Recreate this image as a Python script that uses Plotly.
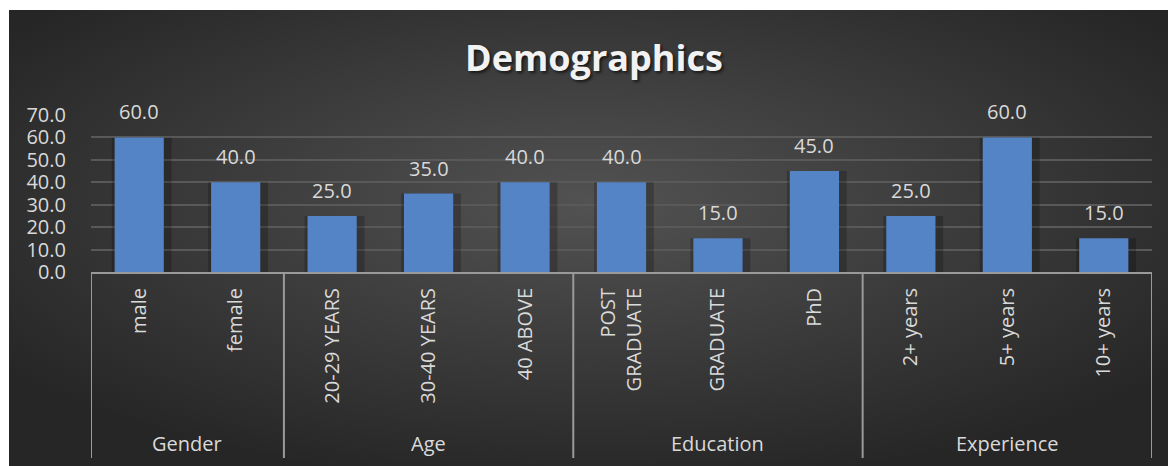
import base64
import plotly.graph_objects as go

# ---- data ----
categories = ["male", "female", "20-29 YEARS", "30-40 YEARS", "40 ABOVE",
              "POST<br>GRADUATE", "GRADUATE", "PhD", "2+ years", "5+ years", "10+ years"]
values = [60.0, 40.0, 25.0, 35.0, 40.0, 40.0, 15.0, 45.0, 25.0, 60.0, 15.0]
groups = ["Gender", "Age", "Education", "Experience"]
group_sizes = [2, 3, 3, 3]
y_ticks = [0, 10, 20, 30, 40, 50, 60, 70]

W, H = 1168, 466
PL, PR, PT, PB = 91, 1152, 115, 272  # plot area in page pixels
FONT = "Open Sans"
TXT = "#d9d9d9"


def px_x(X):
    return (X - PL) / (PR - PL)


def px_y(Y):
    return (PB - Y) / (PB - PT)


# background radial gradient (svg data uri)
svg = '''<svg xmlns="http://www.w3.org/2000/svg" width="1159" height="456" viewBox="0 0 1159 456" preserveAspectRatio="none">
<defs><radialGradient id="g" cx="50%" cy="42%" r="62%">
<stop offset="0%" stop-color="#525252"/><stop offset="100%" stop-color="#262626"/></radialGradient></defs>
<rect width="1159" height="456" fill="url(#g)"/></svg>'''
bg_src = "data:image/svg+xml;base64," + base64.b64encode(svg.encode()).decode()

xs = list(range(len(categories)))
fig = go.Figure()
# soft shadow behind bars
fig.add_trace(go.Bar(
    x=xs, y=values, marker=dict(color="rgba(0,0,0,0.22)", line=dict(width=0)),
    width=0.62, offset=-0.285, hoverinfo="skip"))
fig.add_trace(go.Bar(
    x=xs, y=values,
    marker=dict(color="#5484c5", line=dict(width=0)),
    width=0.51, offset=-0.255, hoverinfo="skip"))

# data labels
for i, v in enumerate(values):
    fig.add_annotation(x=i, y=v, xref="x", yref="y", text=f"{v:.1f}",
                       showarrow=False, yanchor="bottom", yshift=10,
                       font=dict(family=FONT, size=20, color=TXT))

# group separators and labels
start = 0
bounds = [-0.5]
for g, n in zip(groups, group_sizes):
    center = start + (n - 1) / 2
    fig.add_annotation(x=center, y=px_y(443), xref="x", yref="paper", text=g,
                       showarrow=False, yanchor="middle",
                       font=dict(family=FONT, size=20, color=TXT))
    start += n
    bounds.append(start - 0.5)
for b in bounds:
    fig.add_shape(type="line", xref="x", yref="paper", x0=b, x1=b,
                  y0=px_y(272), y1=px_y(458), line=dict(color="#9a9a9a", width=2), layer="above")

# white page margins (top and left) around the dark chart
fig.add_shape(type="rect", xref="paper", yref="paper", x0=px_x(0), x1=px_x(W + 5),
              y0=px_y(10), y1=px_y(-5), fillcolor="white", line=dict(width=0), layer="below")
fig.add_shape(type="rect", xref="paper", yref="paper", x0=px_x(-5), x1=px_x(9),
              y0=px_y(H + 5), y1=px_y(-5), fillcolor="white", line=dict(width=0), layer="below")

fig.add_layout_image(source=bg_src, xref="paper", yref="paper", x=px_x(9), y=px_y(10),
                     sizex=(W + 4 - 9) / (PR - PL), sizey=(H + 4 - 10) / (PB - PT),
                     xanchor="left", yanchor="top", sizing="stretch", layer="below")

fig.add_annotation(text="<b>Demographics</b>", xref="paper", yref="paper",
                   x=px_x(594), y=px_y(57), showarrow=False, xanchor="center", yanchor="middle",
                   font=dict(family=FONT, size=36, color="#f2f2f2",
                             shadow="2px 2px 3px rgba(0,0,0,0.6)"))

fig.update_layout(
    width=W, height=H,
    paper_bgcolor="#262626", plot_bgcolor="rgba(0,0,0,0)",
    margin=dict(l=PL, r=W - PR, t=PT, b=H - PB, pad=0),
    showlegend=False, barmode="overlay",
    xaxis=dict(range=[-0.5, len(categories) - 0.5], automargin=False,
               tickmode="array", tickvals=xs, ticktext=categories,
               tickangle=-90, ticks="outside", ticklen=6, tickcolor="rgba(0,0,0,0)",
               tickfont=dict(family=FONT, size=20, color=TXT),
               showgrid=False, zeroline=False, showline=True, linecolor="#9a9a9a", linewidth=2),
    yaxis=dict(range=[0, 70], tickmode="array", tickvals=y_ticks, automargin=False,
               ticktext=[f"{t:.1f}" for t in y_ticks],
               tickfont=dict(family=FONT, size=20, color=TXT),
               ticks="outside", ticklen=20, tickcolor="rgba(0,0,0,0)",
               showgrid=True, gridcolor="#595959", gridwidth=2, zeroline=False),
)

fig.write_html("out.html", config={"displayModeBar": False},
               post_script="document.body.style.margin='0';document.body.style.overflow='hidden';")
